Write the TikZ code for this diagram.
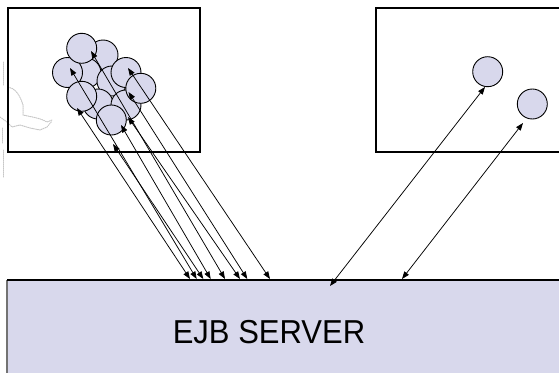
\documentclass[tikz,border=0pt]{standalone}
\usepackage{fontspec}
\setmainfont{Liberation Sans}
\usetikzlibrary{arrows.meta}
\definecolor{lav}{RGB}{216,216,236}
\begin{document}
\begin{tikzpicture}[x=1pt,y=-1pt,
  frame/.style={draw=black,line width=2pt},
  bean/.style={circle,draw=black,line width=0.9pt,fill=lav,minimum size=30pt,inner sep=0pt},
  link/.style={line width=0.75pt,{Triangle[length=7.5pt,width=5.5pt]}-{Triangle[length=7.5pt,width=5.5pt]}},
  trace/.style={draw=black!22,line width=1pt,densely dotted,line cap=round}]
\useasboundingbox (0,0) rectangle (559,372);

% faint map outline at the far left
\draw[trace] (3,62) -- (3,86);
\draw[trace] (8,87) .. controls (15,88) and (20,95) .. (23,105)
  -- (23,115) .. controls (32,117) and (40,118) .. (47,122) -- (52,120);
\draw[trace] (0,117) -- (7,122) -- (12,127) -- (20,125) -- (30,128) -- (40,130) -- (47,127) -- (52,121);
\draw[trace] (2,128) -- (2,143);
\draw[trace] (3,150) -- (3,177);

% client frames
\draw[frame] (8,8) rectangle (200,152);
\draw[frame] (376,8) rectangle (575,152);

% server
\fill[lav] (7,280) rectangle (575,380);
\draw[black!55,line width=1.4pt] (7,380) -- (7,280);
\draw[black,line width=1.4pt] (7,280) -- (575,280);
\node[font=\fontsize{31}{31}\selectfont] (label) at (269,332) {\scalebox{1}[1.07]{EJB SERVER}};

% clustered beans
\node[bean] (cb) at (103,55) {};
\node[bean] (cd) at (86,73) {};
\node[bean] (ce) at (112,81) {};
\node[bean] (ci) at (98,104) {};
\node[bean] (cc) at (67.5,72.5) {};
\node[bean] (ca) at (81.7,48.3) {};
\node[bean] (cf) at (126,72.5) {};
\node[bean] (cj) at (126,105) {};
\node[bean] (cg) at (140.8,88.3) {};
\node[bean] (ch) at (81.7,96.3) {};
\node[bean] (ck) at (111.3,120) {};

% single beans
\node[bean] (sa) at (487.7,71.7) {};
\node[bean] (sb) at (532.3,104) {};

% connector ends
\coordinate (t1) at (91,51);
\coordinate (t2) at (70,68);
\coordinate (t3) at (128,68);
\coordinate (t4) at (128.5,92);
\coordinate (t5) at (77,108);
\coordinate (t6) at (128,117);
\coordinate (t7) at (121,125);
\coordinate (t8) at (113,144);
\coordinate (b1) at (225,279);
\coordinate (b2) at (196.7,279);
\coordinate (b3) at (270,279);
\coordinate (b4) at (247.3,279);
\coordinate (b5) at (190,279);
\coordinate (b6) at (240,279);
\coordinate (b7) at (210.7,279);
\coordinate (b8) at (203.3,279);
\coordinate (r1) at (485,87);
\coordinate (r2) at (523,123);
\coordinate (s1) at (330,286);
\coordinate (s2) at (402,279);

\foreach \i in {1,...,8} \draw[link] (t\i) -- (b\i);
\draw[link] (r1) -- (s1);
\draw[link] (r2) -- (s2);
\end{tikzpicture}
\end{document}
